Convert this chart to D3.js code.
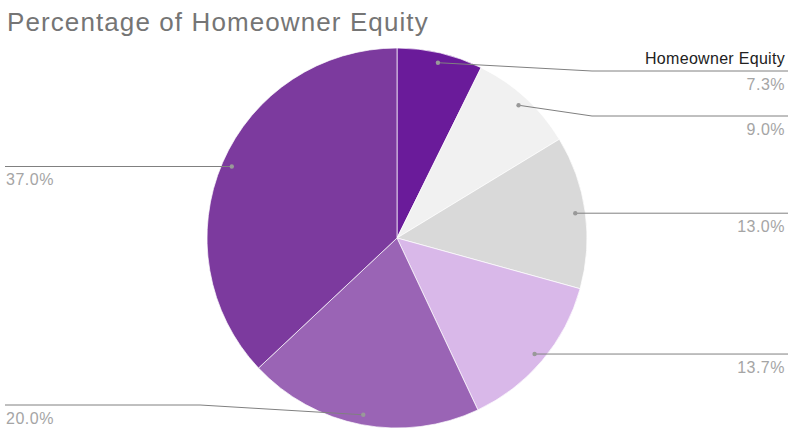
<!DOCTYPE html>
<html><head><meta charset="utf-8">
<script src="https://cdn.jsdelivr.net/npm/d3@7"></script>
<style>body{margin:0;background:#fff;}svg{display:block;font-family:Arial,"Liberation Sans",sans-serif;}</style>
</head><body>
<svg id="c" width="788" height="429"></svg>
<script>
const title = "Percentage of Homeowner Equity";
const seriesName = "Homeowner Equity";
const categories = ["A","B","C","D","E","F"];
const values = [7.3, 9.0, 13.0, 13.7, 20.0, 37.0];
const labels = ["7.3%","9.0%","13.0%","13.7%","20.0%","37.0%"];
const colors = ["#6a1b9a","#f1f1f1","#d9d9d9","#d9b8e9","#9a64b5","#7c3a9e"];

const W = 788, H = 429;
const cx = 397, cy = 238, R = 190;
const svg = d3.select("#c");

svg.append("text").attr("x", 7).attr("y", 31)
  .attr("font-size", 26).attr("letter-spacing", 1.1).attr("fill", "#757575").text(title);

const pie = d3.pie().sort(null).value(d => d)(values);
const arc = d3.arc().innerRadius(0).outerRadius(R);
const dotArc = d3.arc().innerRadius(R - 10).outerRadius(R - 10);

const g = svg.append("g").attr("transform", `translate(${cx},${cy})`);
g.selectAll("path").data(pie).join("path")
  .attr("d", arc).attr("fill", (d, i) => colors[i])
  .attr("stroke", "#fff").attr("stroke-width", 0.7);

// label layout
const items = pie.map((d, i) => {
  const c = dotArc.centroid(d);
  const mid = (d.startAngle + d.endAngle) / 2;
  return {i, x: c[0] + cx, y: c[1] + cy, right: mid < Math.PI};
});
const minY = 71, maxY = 405, gap = 45;
["right", "left"].forEach(side => {
  const arr = items.filter(o => side === "right" ? o.right : !o.right).sort((a, b) => a.y - b.y);
  let prev = -Infinity;
  arr.forEach(o => { o.ly = Math.min(maxY, Math.max(o.y, minY, prev + gap)); prev = o.ly; });
});

const lg = svg.append("g");
items.forEach(o => {
  const elbowX = o.right ? cx + R + 5 : cx - R - 7;
  const endX = o.right ? W : 5;
  lg.append("path")
    .attr("d", `M${o.x},${o.y}L${elbowX},${o.ly}L${endX},${o.ly}`)
    .attr("fill", "none").attr("stroke", "#808080").attr("stroke-width", 1);
  lg.append("circle").attr("cx", o.x).attr("cy", o.y).attr("r", 2.2).attr("fill", "#999");
  lg.append("text")
    .attr("x", o.right ? W - 3 : 6).attr("y", o.ly + 18.5)
    .attr("text-anchor", o.right ? "end" : "start")
    .attr("font-size", 16).attr("letter-spacing", 0.5).attr("fill", "#a5a5a5").text(labels[o.i]);
  if (o.i === 0) {
    lg.append("text").attr("x", W - 3).attr("y", o.ly - 7)
      .attr("text-anchor", "end").attr("font-size", 16).attr("letter-spacing", 0.3)
      .attr("fill", "#222").text(seriesName);
  }
});
</script>
</body></html>
